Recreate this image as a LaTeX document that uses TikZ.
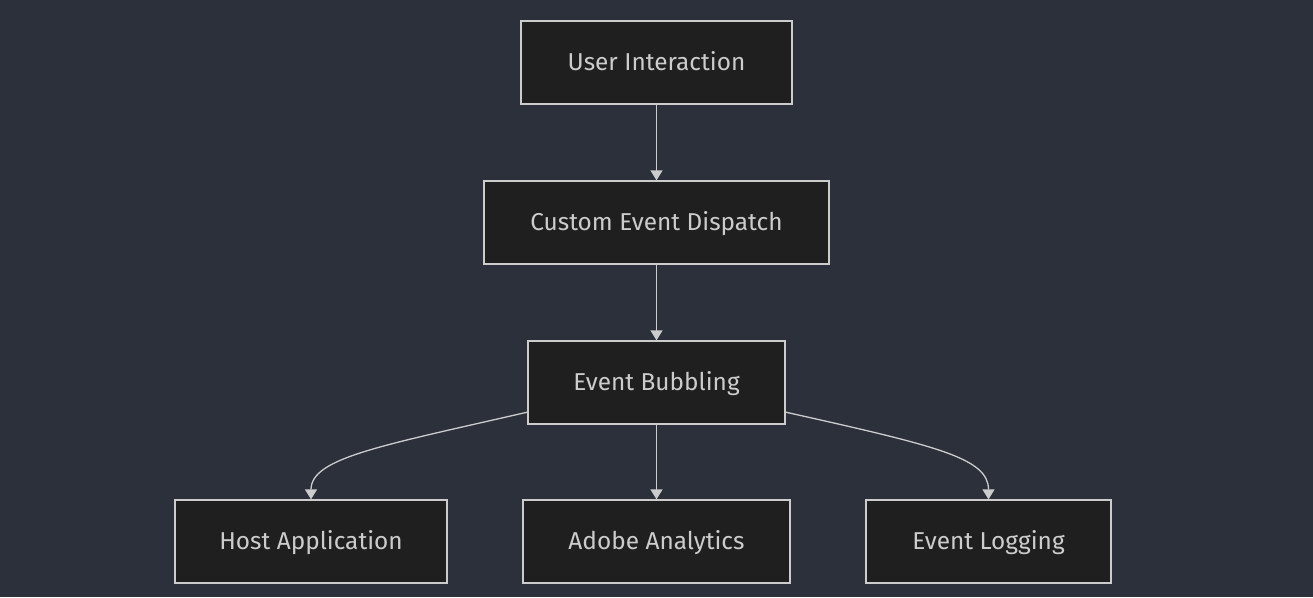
\documentclass[tikz,border=0pt]{standalone}
\usepackage{fontspec}
\setmainfont{Fira Sans}
\usetikzlibrary{arrows.meta}
\definecolor{bgc}{HTML}{2B303B}
\definecolor{boxfill}{HTML}{1F1F1F}
\definecolor{boxline}{HTML}{CCCCCC}
\definecolor{txt}{HTML}{CCCCCC}
\newcommand\pxu{0.75pt}
\begin{document}
\begin{tikzpicture}[x=0.75pt,y=-0.75pt,
  box/.style={draw=boxline, fill=boxfill, line width=1.3*\pxu, text=txt,
    minimum height=83*\pxu, inner sep=0pt, text height=12.6pt, text depth=0pt,
    font=\fontsize{18.3}{22}\selectfont},
  conn/.style={draw=boxline, line width=1.3*\pxu,
    -{Triangle[width=12*\pxu,length=10*\pxu]}}]
\fill[bgc] (0,0) rectangle (1313,597);
\useasboundingbox (0,0) rectangle (1313,597);
\node[box, minimum width=271*\pxu] (ui) at (656.5,62.5) {User Interaction};
\node[box, minimum width=345*\pxu] (ced) at (656.5,222.5) {Custom Event Dispatch};
\node[box, minimum width=257*\pxu] (eb) at (656.5,382.5) {Event Bubbling};
\node[box, minimum width=272*\pxu] (host) at (311,541.5) {Host Application};
\node[box, minimum width=267*\pxu] (aa) at (656.5,541.5) {Adobe Analytics};
\node[box, minimum width=245*\pxu] (log) at (988.5,541.5) {Event Logging};
\coordinate (ebl) at (528,412);
\coordinate (ebr) at (785,412);
\draw[conn] (ui) -- (ced);
\draw[conn] (ced) -- (eb);
\draw[conn] (eb) -- (aa);
\draw[conn] (ebl) .. controls (380,446) and (311,458) .. (host.north);
\draw[conn] (ebr) .. controls (937,446) and (988.5,458) .. (log.north);
\end{tikzpicture}
\end{document}
